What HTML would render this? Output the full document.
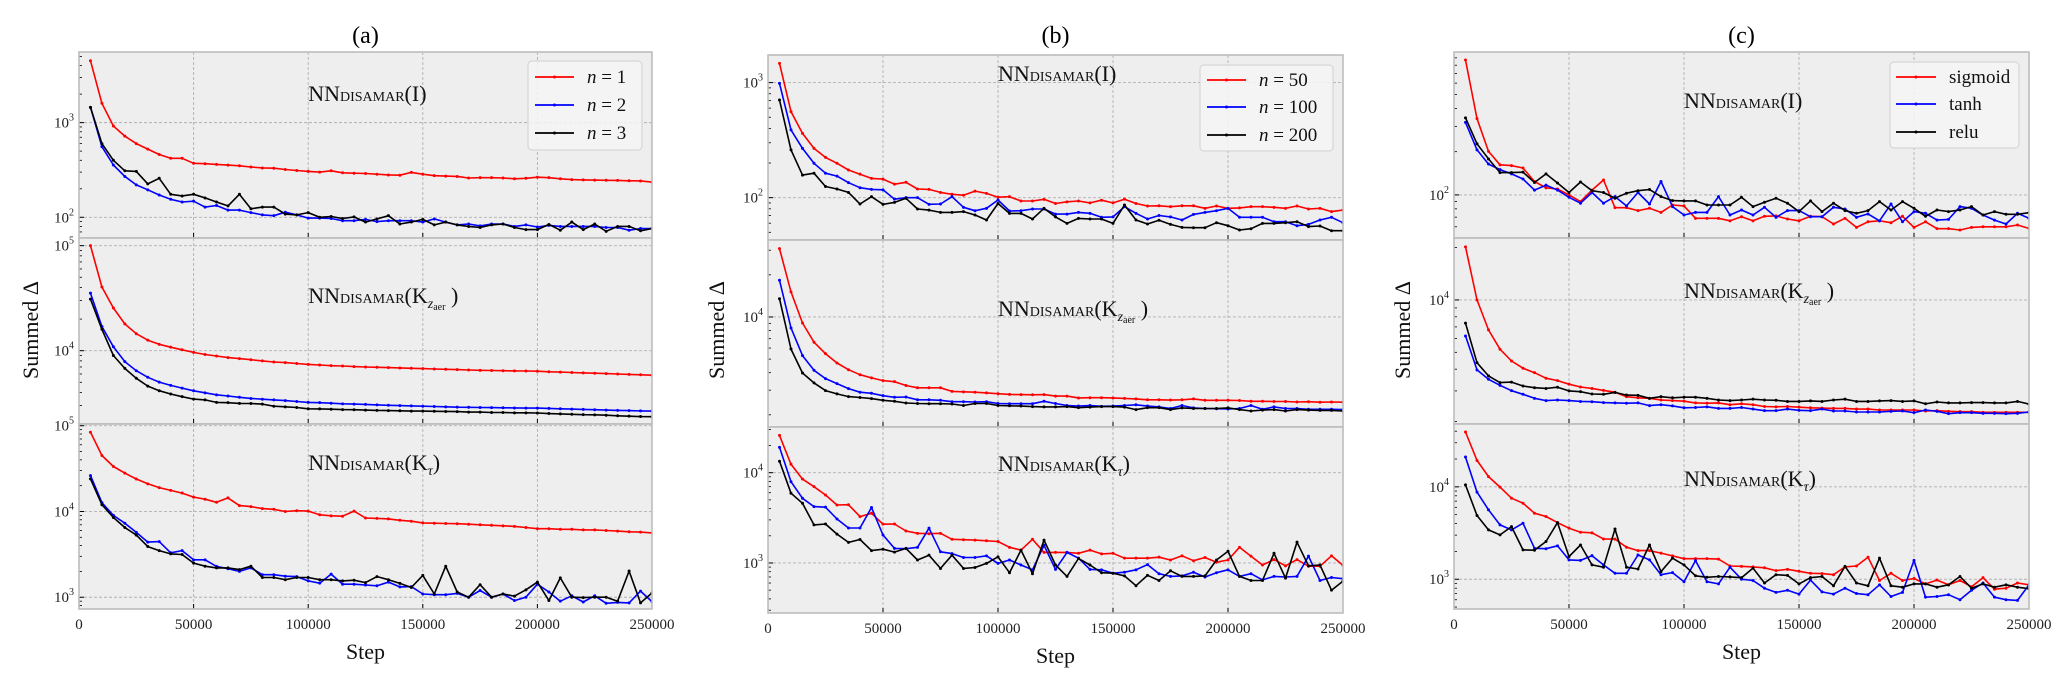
<!DOCTYPE html>
<html><head><meta charset="utf-8"><style>
html,body{margin:0;padding:0;background:#fff;}
svg{display:block;font-family:"Liberation Serif","DejaVu Serif",serif;}
</style></head><body>
<svg id="fig" width="2067" height="682" viewBox="0 0 2067 682" xmlns="http://www.w3.org/2000/svg"></svg>
<script>
// ---------- data ----------
const steps = [];
for (let k = 1; k <= 50; k++) steps.push(k * 5000);
const xTickValues = [0, 50000, 100000, 150000, 200000, 250000];
const xTickLabels = ["0", "50000", "100000", "150000", "200000", "250000"];
const panelTitles = ["(a)", "(b)", "(c)"];
const legendA = ["1", "2", "3"];
const legendB = ["50", "100", "200"];
const legendC = ["sigmoid", "tanh", "relu"];

// panel (a)
const aIRed = [4500,1600,920,720,600,525,460,420,420,372,368,362,356,350,340,332,330,320,312,305,300,310,295,292,290,285,280,278,298,285,275,272,270,260,262,262,260,255,258,265,262,255,250,248,247,246,245,243,242,235];
const aIBlue = [1450,557,357,270,220,195,172,155,145,148,128,133,119,119,112,106,104,113,106,98,98,97,92,92,95,90,92,92,92,89,96,89,83,85,81,85,85,80,83,79,82,80,80,80,80,78,78,73,76,76];
const aIBlack = [1450,600,400,310,305,225,258,175,168,175,160,145,132,175,123,128,128,108,106,112,100,102,97,101,89,96,104,85,89,95,83,89,83,80,78,83,85,78,74,74,84,73,89,74,85,71,80,80,72,76];
const aZRed = [100000,40400,25500,18000,14500,12600,11500,10800,10200,9630,9200,8900,8600,8400,8200,8000,7800,7700,7550,7400,7300,7200,7150,7050,7000,6950,6900,6850,6800,6750,6700,6650,6600,6550,6500,6480,6450,6420,6400,6380,6300,6250,6200,6150,6100,6050,6000,5950,5900,5840];
const aZBlue = [35300,17000,10900,7870,6450,5580,5020,4670,4400,4150,3970,3800,3700,3600,3510,3450,3400,3350,3280,3220,3200,3160,3120,3100,3080,3050,3020,3000,2980,2960,2940,2920,2900,2890,2880,2870,2860,2850,2840,2840,2820,2800,2780,2760,2740,2720,2700,2690,2670,2660];
const aZBlack = [31000,16000,9000,6780,5460,4600,4160,3870,3650,3460,3400,3220,3200,3150,3140,3100,2960,2920,2880,2800,2790,2770,2750,2740,2720,2700,2690,2680,2660,2660,2650,2640,2630,2600,2600,2580,2580,2560,2560,2550,2520,2500,2480,2460,2450,2430,2400,2380,2360,2350];
const aTRed = [84000,45000,33500,28000,23900,21000,19000,17600,16400,14700,13900,12800,14400,11700,11400,10800,10600,10000,10200,10100,9160,8900,8800,10100,8400,8300,8200,7900,7700,7360,7300,7250,7200,7100,7000,6900,6800,6700,6500,6300,6300,6200,6200,6100,6100,6000,5900,5800,5750,5630];
const aTBlue = [26200,12700,9000,7300,5700,4400,4450,3300,3500,2730,2730,2290,2150,2000,2200,1830,1830,1760,1740,1550,1460,1860,1420,1420,1390,1360,1500,1320,1330,1090,1070,1070,1110,1000,1200,1000,1090,915,1000,1420,1150,900,1040,880,1040,850,870,860,1180,890];
const aTBlack = [24000,12000,8500,6500,5300,3900,3500,3200,3150,2500,2300,2200,2200,2100,2300,1700,1700,1600,1700,1700,1600,1600,1550,1580,1480,1740,1600,1450,1300,1800,1090,2300,1150,1000,1400,1000,1090,1030,1220,1500,915,1680,1000,990,1000,1000,900,2020,860,1120];

// panel (b)
const bIRed = [1470,560,362,268,224,199,174,160,147,145,131,136,119,118,111,107,105,114,109,101,102,93.5,93.5,96.7,89,92,93.5,90,95,90,97,89,84.6,85,83.5,85,85,80.8,84.6,80.8,81.5,83.5,83.5,82.4,80.8,84.6,79.7,80.8,75.6,78];
const bIBlue = [986,388,268,199,163,154,135,122,118,117,97,100,100,87.5,88,102,82.4,77,80.8,95.4,76.5,77,79.7,79.7,72,72,74.5,73.1,67.5,68,83.5,73.1,65.2,70,68,64,71.6,74.5,77,80.8,67.5,67.5,67.5,61.8,61.8,57,58.6,64,67.5,60.6];
const bIBlack = [706,260,157,163,125,119,111,88,102,87.5,91,98.7,79.7,78,74.5,74.5,75.6,70.7,64,89,73,73,65.2,80.8,68,59.8,66,65.2,65.2,59.8,86.4,64,59,63.6,58.6,55.2,54.8,54.8,60.6,57,52.3,53.7,59.8,59.8,60.6,61.8,56,56.7,51.6,51.6];
const bZRed = [30800,15100,9060,6600,5470,4690,4200,3870,3670,3510,3450,3240,3120,3120,3120,2940,2920,2900,2870,2830,2800,2790,2780,2790,2720,2720,2640,2650,2650,2640,2620,2600,2560,2560,2550,2560,2600,2540,2540,2540,2530,2500,2500,2490,2490,2470,2480,2460,2470,2460];
const bZBlue = [18300,8350,5300,4160,3630,3340,3080,2900,2850,2740,2670,2680,2560,2560,2540,2480,2480,2470,2480,2410,2400,2400,2400,2500,2410,2330,2310,2330,2300,2310,2330,2360,2310,2280,2220,2330,2240,2220,2210,2200,2220,2330,2190,2280,2220,2220,2190,2190,2190,2180];
const bZBlack = [13500,5900,3980,3380,2980,2820,2700,2660,2610,2540,2500,2430,2410,2400,2400,2390,2330,2410,2410,2330,2320,2310,2290,2280,2280,2290,2250,2270,2290,2290,2270,2180,2250,2250,2180,2240,2220,2220,2220,2240,2180,2130,2160,2180,2130,2180,2160,2150,2150,2130];
const bTRed = [25900,12400,8500,7000,5660,4390,4420,3260,3550,2690,2700,2260,2130,2110,2130,1830,1810,1790,1760,1730,1490,1390,1830,1310,1310,1310,1280,1390,1260,1280,1130,1130,1130,1160,1080,1200,1060,1150,1020,1080,1490,1190,950,1090,930,1090,920,920,1200,940];
const bTBlue = [19100,7940,5210,4210,4150,3070,2440,2440,4120,2040,1450,1440,1490,2430,1330,1270,1150,1150,1200,990,1080,950,840,1570,850,1310,1130,850,840,770,790,840,960,760,710,720,790,700,780,840,710,760,650,710,700,710,1190,640,690,670];
const bTBlack = [13400,5920,4580,2640,2700,2090,1690,1820,1370,1420,1320,1450,1080,1220,870,1220,870,890,990,1170,780,1390,760,1790,950,710,1120,950,780,770,720,560,730,640,820,710,710,720,1080,1350,710,640,640,1280,680,1700,930,950,500,630];

// panel (c)
const cIRed = [870,340,201,162,160,154,124,112,110,100,89.8,108,127,81.5,81.5,77.7,80.7,75.6,85,83.8,68.7,68.7,68.7,66,70.5,66,71,71.4,68,66,71,70.5,62.7,68.7,59.4,65,66,64,71,59.4,65,58.2,58.2,57,59.4,60,60,60,61.7,58.5];
const cIBlue = [320,206,164,150,140,129,108,117,108,96.3,87.5,104,87.5,97.3,83.8,104,86.5,124,82.9,72.5,75.6,75.6,97.3,72.5,78.5,72.5,82,69.8,77.7,77.7,70.5,70.5,82,79.8,69.8,73.7,66,86.5,65,76.5,74.5,66.8,67.5,82.9,80.7,72.5,66.8,62.7,74.5,68.7];
const cIBlack = [344,227,178,143,143,144,122,140,121,104,123,107,104,94.8,102.7,107,109,97.3,91.3,90.8,90.8,85,85,85,96.3,82.9,88.9,94.8,87.5,76.5,90.8,76.5,87.5,77.7,74.5,77.7,89.8,78.5,89.8,80.7,71,78.5,76.5,78.5,82.9,72.5,76.5,73.3,73.3,75.2];
const cZRed = [20200,10000,6730,5210,4460,4050,3820,3550,3440,3280,3160,3100,3020,2950,2780,2740,2720,2660,2640,2620,2560,2550,2560,2500,2530,2500,2440,2430,2440,2420,2400,2390,2380,2380,2360,2360,2330,2330,2330,2330,2300,2310,2290,2280,2280,2260,2260,2260,2260,2260];
const cZBlue = [6210,3960,3500,3230,3010,2870,2720,2640,2660,2640,2610,2600,2570,2560,2550,2560,2470,2500,2460,2400,2410,2430,2380,2380,2410,2360,2310,2310,2360,2320,2310,2360,2300,2300,2270,2270,2270,2290,2300,2250,2330,2290,2220,2250,2250,2230,2230,2220,2230,2270];
const cZBlack = [7360,4360,3660,3350,3370,3200,3130,3100,3150,3000,2970,2880,2870,2940,2840,2830,2720,2780,2740,2760,2760,2720,2660,2640,2660,2690,2660,2650,2610,2610,2630,2610,2660,2690,2610,2610,2630,2640,2610,2630,2530,2590,2560,2560,2570,2570,2560,2560,2610,2520];
const cTRed = [39200,19300,12900,9930,7530,6650,5180,4770,4100,3570,3230,3180,2730,2720,2220,2040,2040,1920,1790,1670,1670,1670,1650,1390,1380,1360,1330,1240,1280,1220,1160,1150,1120,1360,1390,1730,970,1160,970,1020,890,980,870,970,830,1040,780,800,910,870];
const cTBlue = [21000,8770,5640,3870,3420,4040,2160,2140,2300,1620,1600,1800,1430,1160,1160,1830,1620,1120,1180,940,1590,940,890,1350,1000,970,800,720,760,690,980,730,690,800,700,680,870,650,720,1600,640,650,680,600,760,910,640,600,590,870];
const cTBlack = [10500,4890,3420,3020,3710,2080,2060,2560,4100,1760,2350,1430,1350,3500,1350,1290,2350,1210,1690,1430,1090,1050,1070,1060,1040,1320,910,1120,1100,890,1040,1070,850,1380,910,850,1690,850,820,890,890,820,870,1070,800,890,820,870,820,790];

// ---------- layout ----------
const NS = "http://www.w3.org/2000/svg";
const svg = document.getElementById("fig");
const colors = ["#ff0000", "#0000ff", "#000000"];
const layout = [
  {left: 79, right: 652, tops: [52, 238, 424, 609], ylab: 30,
   ranges: [[1.781, 3.746], [3.302, 5.073], [2.863, 5.02]],
   ann: [41, 57, 38],
   series: [[aIRed, aIBlue, aIBlack], [aZRed, aZBlue, aZBlack], [aTRed, aTBlue, aTBlack]],
   legend: {x0: 528, x1: 642, y0: 61, y1: 150, ys: [77, 105, 133], lx0: 535, lx1: 574, tx: 587, labels: legendA, kind: "n"}},
  {left: 768, right: 1343, tops: [55, 240, 427, 613], ylab: 716,
   ranges: [[1.632, 3.24], [3.214, 4.55], [2.446, 4.506]],
   ann: [18, 68, 36],
   series: [[bIRed, bIBlue, bIBlack], [bZRed, bZBlue, bZBlack], [bTRed, bTBlue, bTBlack]],
   legend: {x0: 1200, x1: 1333, y0: 65, y1: 151, ys: [80, 107, 135], lx0: 1207, lx1: 1246, tx: 1259, labels: legendB, kind: "n"}},
  {left: 1454, right: 2029, tops: [52, 238, 424, 609], ylab: 1402,
   ranges: [[1.70, 2.995], [3.287, 4.356], [2.678, 4.68]],
   ann: [48, 52, 54],
   series: [[cIRed, cIBlue, cIBlack], [cZRed, cZBlue, cZBlack], [cTRed, cTBlue, cTBlack]],
   legend: {x0: 1890, x1: 2019, y0: 62, y1: 148, ys: [77, 104, 132], lx0: 1896, lx1: 1936, tx: 1949, labels: legendC, kind: "t"}}
];
const subNames = ["intensity", "kzaer", "ktau"];
const panelNames = ["a", "b", "c"];

function el(tag, attrs, parent) {
  const e = document.createElementNS(NS, tag);
  for (const k in attrs) e.setAttribute(k, attrs[k]);
  (parent || svg).appendChild(e);
  return e;
}

const defs = el("defs", {});

layout.forEach((P, pi) => {
  const pg = el("g", {});
  
  
  const xS = v => P.left + v / 250000 * (P.right - P.left);
  const cx = (P.left + P.right) / 2;

  const t = el("text", {x: cx, y: 43, "text-anchor": "middle", "font-size": 24, fill: "#000"}, pg);
  t.textContent = panelTitles[pi];
  
  

  for (let si = 0; si < 3; si++) {
    const y0 = P.tops[si], y1 = P.tops[si + 1];
    const [lmin, lmax] = P.ranges[si];
    const yS = v => y1 - (Math.log10(v) - lmin) / (lmax - lmin) * (y1 - y0);
    const yL = l => y1 - (l - lmin) / (lmax - lmin) * (y1 - y0);
    const g = el("g", {}, pg);
    
    
    el("rect", {x: P.left, y: y0, width: P.right - P.left, height: y1 - y0, fill: "#eeeeee"}, g);
    const cid = "clip" + pi + si;
    const cp = el("clipPath", {id: cid}, defs);
    el("rect", {x: P.left, y: y0, width: P.right - P.left, height: y1 - y0}, cp);
    // grid
    for (let k = 1; k < xTickValues.length - 1; k++) {
      const gx = xS(xTickValues[k]);
      const gl = el("line", {x1: gx, x2: gx, y1: y0, y2: y1, stroke: "#b0b0b0", "stroke-width": 0.9, "stroke-dasharray": "3,2"}, g);
      
      
      el("line", {x1: gx, x2: gx, y1: y1, y2: y1 - 5, stroke: "#000", "stroke-width": 1}, g);
    }
    for (let d = Math.ceil(lmin); d <= Math.floor(lmax); d++) {
      const gy = yL(d);
      const gl = el("line", {x1: P.left, x2: P.right, y1: gy, y2: gy, stroke: "#b0b0b0", "stroke-width": 0.9, "stroke-dasharray": "3,2"}, g);
      
      
      el("line", {x1: P.left, x2: P.left + 5, y1: gy, y2: gy, stroke: "#000", "stroke-width": 1}, g);
      const lab = el("text", {x: P.left - 5, y: gy + 5, "text-anchor": "end", "font-size": 15, fill: "#222"}, g);
      
      
      const t1 = el("tspan", {}, lab); t1.textContent = "10";
      const t2 = el("tspan", {dy: -7, "font-size": 10}, lab); t2.textContent = String(d);
    }
    for (let d = Math.floor(lmin); d <= Math.ceil(lmax); d++) {
      for (let m = 2; m <= 9; m++) {
        const l = d + Math.log10(m);
        if (l <= lmin || l >= lmax) continue;
        const my = yL(l);
        el("line", {x1: P.left, x2: P.left + 3, y1: my, y2: my, stroke: "#000", "stroke-width": 0.8}, g);
      }
    }
    // series
    const sg = el("g", {"clip-path": "url(#" + cid + ")"}, g);
    P.series[si].forEach((vals, ci) => {
      let d = "";
      vals.forEach((v, i) => { d += (i ? "L" : "M") + xS(steps[i]).toFixed(1) + "," + yS(v).toFixed(1); });
      const path = el("path", {d: d, fill: "none", stroke: colors[ci], "stroke-width": 1.6, "stroke-linejoin": "round"}, sg);
      
      
      vals.forEach((v, i) => {
        const c = el("circle", {cx: xS(steps[i]), cy: yS(v), r: 1.5, fill: colors[ci]}, sg);
        
        
      });
    });
    el("rect", {x: P.left, y: y0, width: P.right - P.left, height: y1 - y0, fill: "none", stroke: "#bdbdbd", "stroke-width": 1.6}, g);
    // annotation
    const ax = P.left + 0.4 * (P.right - P.left);
    const ay = y0 + P.ann[si] + 8;
    const an = el("text", {x: ax, y: ay, "font-size": 22, fill: "#111"}, g);
    
    
    const a1 = el("tspan", {}, an); a1.textContent = "NN";
    const a2 = el("tspan", {"font-size": 14}, an); a2.textContent = "DISAMAR";
    const a3 = el("tspan", {}, an);
    if (si === 0) a3.textContent = "(I)";
    else {
      a3.textContent = "(K";
      if (si === 1) {
        const s1 = el("tspan", {"font-size": 14, "font-style": "italic", dy: 5}, an); s1.textContent = "z";
        const s2 = el("tspan", {"font-size": 10, dy: 2}, an); s2.textContent = "aer";
        const s3 = el("tspan", {dy: -7}, an); s3.textContent = " )";
      } else {
        const s1 = el("tspan", {"font-size": 14, "font-style": "italic", dy: 5}, an); s1.textContent = "τ";
        const s3 = el("tspan", {dy: -5}, an); s3.textContent = ")";
      }
    }
  }
  // x tick labels
  const yb = P.tops[3];
  xTickValues.forEach((v, i) => {
    const tl = el("text", {x: xS(v), y: yb + 20, "text-anchor": "middle", "font-size": 15, fill: "#222"}, pg);
    tl.textContent = xTickLabels[i];
    
    
  });
  const xl = el("text", {x: cx, y: yb + 50, "text-anchor": "middle", "font-size": 22, fill: "#111"}, pg);
  xl.textContent = "Step";
  
  
  const yl = el("text", {x: P.ylab, y: 330, "text-anchor": "middle", "font-size": 22, fill: "#111", transform: "rotate(-90 " + P.ylab + " 330)", dy: 8}, pg);
  yl.textContent = "Summed Δ";
  
  
  // legend
  const L = P.legend;
  const lg = el("g", {}, pg);
  
  
  el("rect", {x: L.x0, y: L.y0, width: L.x1 - L.x0, height: L.y1 - L.y0, rx: 4, fill: "#f4f4f4", "fill-opacity": 0.85, stroke: "#d0d0d0", "stroke-width": 1}, lg);
  L.labels.forEach((lab, i) => {
    const eg = el("g", {}, lg);
    
    
    el("line", {x1: L.lx0, x2: L.lx1, y1: L.ys[i], y2: L.ys[i], stroke: colors[i], "stroke-width": 1.8}, eg);
    el("circle", {cx: (L.lx0 + L.lx1) / 2, cy: L.ys[i], r: 1.5, fill: colors[i]}, eg);
    const tx = el("text", {x: L.tx, y: L.ys[i] + 6, "font-size": 19, fill: "#111"}, eg);
    if (L.kind === "n") {
      const n1 = el("tspan", {"font-style": "italic"}, tx); n1.textContent = "n";
      const n2 = el("tspan", {}, tx); n2.textContent = " = " + lab;
    } else tx.textContent = lab;
  });
});
</script>
</body></html>
